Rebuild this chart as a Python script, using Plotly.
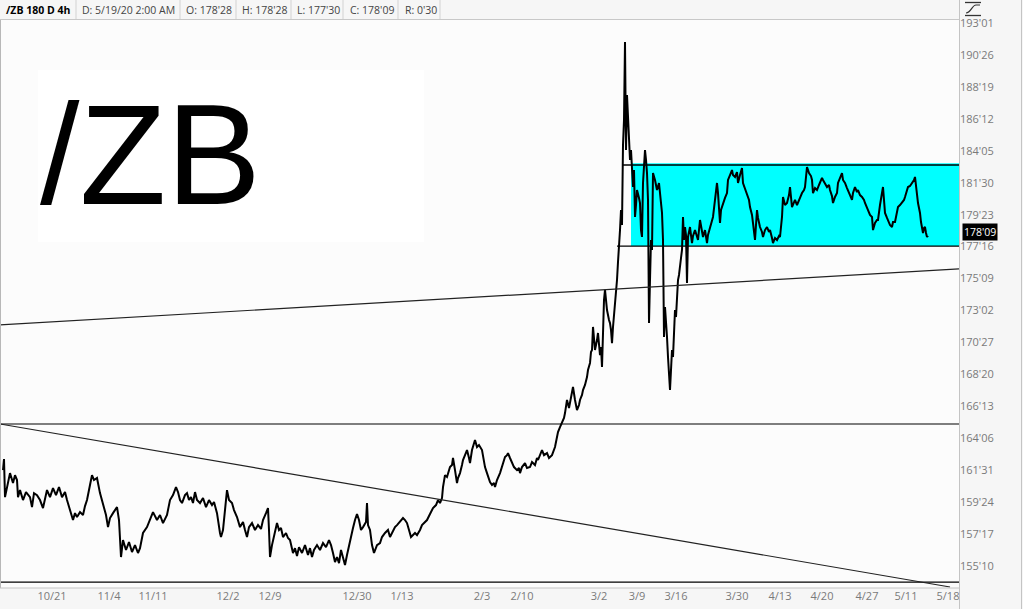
import plotly.graph_objects as go

# ---------------- data ----------------
# bar position on the chart's trading-time axis, and price (points, decimal)
bar_pos = [3,4,5,7,10,13,15,17,18,20,23,26,30,32,34,37,40,43,45,47,50,53,56,59,62,65,67,70,73,75,77,80,83,85,87,90,92,94,97,100,
           103,106,108,110,113,117,119,120,121,123,126,129,132,135,138,140,143,147,150,153,157,160,163,167,170,173,176,178,180,182,185,187,189,191,193,195,197,200,203,206,209,212,214,217,220,221,223,226,227,229,232,234,237,240,243,245,247,249,252,255,258,261,263,266,268,269,270,272,274,277,279,281,283,286,288,290,293,295,297,299,302,305,308,310,312,314,317,320,323,326,329,331,333,335,337,339,341,343,345,347,350,353,355,357,359,361,363,366,367,368,370,372,374,377,380,382,385,388,390,393,395,397,400,403,405,407,409,411,413,415,417,420,422,425,427,430,433,436,438,440,442,443,445,447,450,452,453,455,457,458,460,462,463,465,467,469,470,472,474,475,477,479,482,484,485,487,488,490,492,494,495,497,500,502,505,507,508,510,512,514,517,519,520,522,525,527,530,532,535,537,538,540,542,544,547,549,552,555,557,558,560,562,564,565,566,567,569,570,572,573,575,577,579,580,582,583,585,587,588,590,591,592,593,594,595,597,598,600,601,602,603,604,605,606,607,609,610,611,612,613,615,616,617,618,619,620,621,622,623,624,625,626,627,628,629,630,631,632,633,634,635,636,637,639,640,641,642,643,644,645,646,647,648,649,650,651,652,653,655,657,659,661,662,663,664,665,666,667,668,669,670,671,672,673,674,675,676,677,678,679,680,681,682,683,684,685,686,687,688,689,690,692,693,695,697,698,700,702,703,705,707,708,710,712,713,715,716,717,718,720,721,723,725,727,728,730,732,733,735,737,738,740,742,743,745,747,749,750,752,753,755,756,757,758,760,762,763,765,767,769,770,772,773,775,777,779,780,782,783,785,787,789,790,792,794,795,797,798,800,802,804,805,807,809,811,812,813,815,817,819,820,822,823,825,827,829,830,832,833,835,837,838,840,842,843,845,847,848,850,852,853,855,857,858,860,862,864,865,867,868,870,872,873,874,875,877,878,880,882,883,884,885,887,888,890,892,893,895,897,898,900,902,904,905,907,908,910,912,914,915,916,917,918,919,920,921,922,923,924,925,926,927,928]
price = [161.98,162.75,160.10,160.80,161.77,161.08,161.63,161.29,160.10,160.59,159.90,160.45,160.10,159.41,160.38,160.24,159.90,159.34,159.90,160.59,160.10,160.73,160.24,160.80,160.10,160.45,159.90,159.20,158.51,158.99,158.72,159.06,158.86,159.48,159.90,160.94,161.63,161.29,161.43,160.38,
         159.69,158.86,158.02,158.65,158.99,159.41,158.51,156.77,155.94,157.12,156.43,156.98,156.29,156.77,156.22,156.56,157.61,158.02,158.51,159.06,158.51,158.86,158.30,158.86,159.90,160.24,160.80,160.45,159.90,159.69,160.24,160.38,159.90,160.10,159.69,160.45,159.90,159.69,160.04,159.41,159.90,159.55,159.76,158.99,157.61,157.33,157.82,160.24,160.59,159.90,159.69,159.20,158.72,158.02,158.37,157.82,157.33,158.02,158.30,157.82,158.16,157.89,158.51,158.99,159.34,157.82,155.94,156.77,157.47,158.30,157.82,157.96,157.33,157.61,157.26,157.12,156.22,156.56,156.01,156.63,156.22,156.77,156.08,156.56,155.94,156.43,156.77,156.43,156.91,156.63,157.12,156.77,156.22,155.59,155.94,155.52,156.43,155.87,155.39,156.08,157.12,157.96,158.51,158.93,158.51,157.82,158.02,158.37,159.69,158.16,157.82,156.77,156.22,156.77,156.91,157.33,157.61,157.82,157.33,157.82,158.02,158.16,158.37,158.65,158.51,158.30,157.82,157.33,157.47,157.61,157.47,157.82,158.16,158.37,158.51,158.93,159.34,159.55,159.90,159.69,160.04,160.80,161.63,161.50,162.19,162.33,162.82,161.98,161.08,161.43,161.77,162.33,162.68,163.02,163.37,162.82,162.47,163.37,163.86,164.07,163.58,163.72,163.37,162.68,162.19,161.77,161.50,161.15,160.94,161.08,160.80,161.29,161.77,162.26,162.89,163.02,163.16,162.82,162.47,162.19,161.98,162.12,161.77,162.19,162.47,162.12,162.19,162.54,162.33,162.82,162.68,163.02,163.37,163.02,163.16,162.82,163.02,163.58,164.21,164.62,164.97,165.25,165.60,165.94,166.50,166.85,166.29,166.64,167.20,167.75,166.85,166.15,166.50,166.85,167.20,167.54,167.89,168.44,168.93,169.42,170.18,170.32,171.92,171.01,170.32,171.01,171.50,169.97,170.53,169.14,172.61,173.79,174.49,173.45,173.10,172.40,172.19,171.71,170.80,171.92,173.45,174.49,175.18,176.43,177.27,178.65,180.04,179.00,184.56,186.30,191.71,184.21,188.03,186.50,184.91,183.52,184.21,182.61,181.64,182.82,179.56,180.39,181.43,180.88,180.53,178.65,178.17,181.92,183.17,184.21,183.52,182.61,180.74,172.19,175.18,177.96,177.27,182.61,182.13,181.43,181.92,180.74,179.84,177.96,171.22,173.31,172.40,171.22,169.83,168.03,167.54,168.93,170.32,169.83,171.92,173.10,172.61,174.00,175.18,175.53,176.36,176.71,177.27,179.56,177.96,178.86,178.31,174.97,178.17,178.52,178.86,177.75,178.24,178.65,178.10,177.96,179.35,178.52,178.17,178.65,177.75,178.31,178.86,179.21,179.56,180.74,181.43,181.92,181.22,179.14,180.04,180.53,180.88,181.22,182.13,182.47,182.82,182.47,182.34,182.68,181.92,182.47,182.96,181.92,181.57,181.22,180.74,180.25,179.70,179.14,177.96,179.00,180.04,179.49,178.86,178.52,178.17,178.65,178.86,178.52,178.65,178.10,177.75,178.10,177.96,178.24,178.17,179.56,180.95,180.39,180.53,181.08,181.64,180.25,180.60,180.74,180.39,180.53,180.88,181.22,181.43,181.64,183.03,182.61,182.40,182.13,181.22,181.57,181.43,181.78,181.92,182.27,182.13,181.85,181.64,181.78,181.43,181.01,180.53,180.95,181.22,181.92,182.27,182.61,182.13,181.92,181.57,181.43,181.08,180.74,181.22,181.64,181.29,181.43,181.08,180.95,180.74,180.53,180.25,180.04,179.70,179.56,178.65,179.00,179.14,179.35,179.35,180.39,181.22,181.64,180.74,179.84,179.49,179.35,179.00,178.86,179.21,179.21,179.91,180.25,180.39,180.53,180.74,180.95,181.43,181.64,181.71,181.92,182.13,182.34,181.57,180.95,180.53,180.18,179.84,179.21,178.86,178.45,178.79,178.86,178.45,178.17,178.28]

# x-axis date labels and their bar positions
date_ticks = [52,109,153,228,270,357,402,482,522,599,637,676,737,780,822,867,906,948]
date_labels = ["10/21","11/4","11/11","12/2","12/9","12/30","1/13","2/3","2/10",
               "3/2","3/9","3/16","3/30","4/13","4/20","4/27","5/11","5/18"]

# price scale labels (32nds) and values
price_labels = ["155'10","157'17","159'24","161'31","164'06","166'13","168'20","170'27","173'02",
                "175'09","177'16","179'23","181'30","184'05","186'12","188'19","190'26","193'01"]
price_ticks = [155.3125,157.53125,159.75,161.96875,164.1875,166.40625,168.625,170.84375,173.0625,
               175.28125,177.5,179.71875,181.9375,184.15625,186.375,188.59375,190.8125,193.03125]

# drawings: consolidation box, horizontal levels, trendlines (bar_pos, price)
box_start = [631, 623, 617]          # fill start, top-line start, bottom-line start
box_prices = [177.54, 183.17]
horizontal_levels = [165.18, 154.20]
trend_up = [(0, 172.06), (959, 175.95)]
trend_down = [(0, 165.18), (950, 153.86)]
last_close = 178.28
last_close_label = "178'09"

header_cells = [("/ZB 180 D 4h", True), ("D: 5/19/20 2:00 AM", False), ("O: 178'28", False),
                ("H: 178'28", False), ("L: 177'30", False), ("C: 178'09", False), ("R: 0'30", False)]
header_text_x = [4, 80, 184, 240, 295, 348, 403]
header_sep_x = [76, 180, 236, 291, 343, 398, 440]

# ---------------- figure ----------------
W, H = 1023, 609
ML, MR, MT, MB = 0, 64, 20, 21
PW, PH = W - ML - MR, H - MT - MB
XR = [0, 959]
YR = [153.79, 193.24]


def px(x):
    return (x - ML) / PW


def py(y):
    return (H - MB - y) / PH


FONT = "Open Sans"
fig = go.Figure()

fig.add_trace(go.Scatter(x=bar_pos, y=price, mode="lines",
                         line=dict(color="#000000", width=2.0), hoverinfo="skip",
                         showlegend=False))

shapes = []
# consolidation box
shapes.append(dict(type="rect", xref="x", yref="y", x0=box_start[0], x1=XR[1],
                   y0=box_prices[0], y1=box_prices[1] + 0.12, fillcolor="#00ffff",
                   line=dict(width=0), layer="below"))
shapes.append(dict(type="line", xref="x", yref="y", x0=box_start[1], x1=XR[1],
                   y0=box_prices[1], y1=box_prices[1], line=dict(color="#000", width=1.3)))
shapes.append(dict(type="line", xref="x", yref="y", x0=box_start[2], x1=XR[1],
                   y0=box_prices[0], y1=box_prices[0], line=dict(color="#000", width=1.3)))
for lv in horizontal_levels:
    shapes.append(dict(type="line", xref="x", yref="y", x0=XR[0], x1=XR[1], y0=lv, y1=lv,
                       line=dict(color="#000", width=1.2)))
for tl in (trend_up, trend_down):
    shapes.append(dict(type="line", xref="x", yref="y", x0=tl[0][0], y0=tl[0][1],
                       x1=tl[1][0], y1=tl[1][1], line=dict(color="#222", width=1.2)))

# white label box behind the big symbol
shapes.append(dict(type="rect", xref="paper", yref="paper", x0=px(38), x1=px(424),
                   y0=py(242), y1=py(70), fillcolor="#ffffff", line=dict(width=0), layer="below"))

# frame lines
shapes.append(dict(type="line", xref="paper", yref="paper", x0=px(0.5), x1=px(0.5), y0=0, y1=1,
                   line=dict(color="#b8b8b8", width=1)))
shapes.append(dict(type="line", xref="paper", yref="paper", x0=px(959.5), x1=px(959.5), y0=py(609), y1=py(0),
                   line=dict(color="#c4c4c4", width=1)))
shapes.append(dict(type="line", xref="paper", yref="paper", x0=0, x1=px(959.5), y0=py(588), y1=py(588),
                   line=dict(color="#c4c4c4", width=1)))
shapes.append(dict(type="line", xref="paper", yref="paper", x0=0, x1=px(959.5), y0=py(19.5), y1=py(19.5),
                   line=dict(color="#c8c8c8", width=1)))
shapes.append(dict(type="line", xref="paper", yref="paper", x0=px(1021.5), x1=px(1021.5), y0=py(609), y1=py(0),
                   line=dict(color="#c4c4c4", width=1)))
for sx in header_sep_x:
    shapes.append(dict(type="line", xref="paper", yref="paper", x0=px(sx), x1=px(sx),
                       y0=py(19), y1=py(0), line=dict(color="#d2d2d2", width=1)))

# small scale icon at top of price axis
shapes.append(dict(type="line", xref="paper", yref="paper", x0=px(965), x1=px(981), y0=py(2.5), y1=py(2.5),
                   line=dict(color="#333", width=1.3)))
shapes.append(dict(type="line", xref="paper", yref="paper", x0=px(965), x1=px(981), y0=py(15.5), y1=py(15.5),
                   line=dict(color="#333", width=1.3)))
shapes.append(dict(type="path", xref="paper", yref="paper",
                   path=f"M {px(966)},{py(13)} C {px(971)},{py(13)} {px(972)},{py(5)} {px(976)},{py(5)} "
                        f"L {px(980)},{py(5)}",
                   line=dict(color="#333", width=1.2)))

annotations = []
for (txt, bold), hx in zip(header_cells, header_text_x):
    annotations.append(dict(xref="paper", yref="paper", x=px(hx), y=py(10), xanchor="left", yanchor="middle",
                            text=f"<b>{txt}</b>" if bold else txt, showarrow=False,
                            font=dict(family=FONT, size=10.5, color="#000" if bold else "#444")))

annotations.append(dict(xref="paper", yref="paper", x=px(38), y=py(154), xanchor="left", yanchor="middle",
                        text="/ZB", showarrow=False,
                        font=dict(family="Liberation Sans", size=142, color="#000")))

annotations.append(dict(xref="paper", yref="y", x=px(962), y=last_close, xanchor="left", yanchor="middle",
                        yshift=3, text=last_close_label, showarrow=False, bgcolor="#000000", borderpad=1,
                        font=dict(family=FONT, size=10.5, color="#ffffff")))

fig.update_layout(
    width=W, height=H, margin=dict(l=ML, r=MR, t=MT, b=MB),
    paper_bgcolor="#f6f6f6", plot_bgcolor="#fcfcfc",
    shapes=shapes, annotations=annotations, showlegend=False,
    xaxis=dict(range=XR, showgrid=False, zeroline=False, showline=False, ticks="",
               tickvals=date_ticks, ticktext=date_labels, fixedrange=True,
               tickfont=dict(family=FONT, size=11, color="#7a7a7a")),
    yaxis=dict(range=YR, side="right", showgrid=False, zeroline=False, showline=False, ticks="",
               tickvals=price_ticks, ticktext=price_labels, fixedrange=True,
               tickfont=dict(family=FONT, size=11, color="#7a7a7a")),
)

fig.write_html("out.html", config={"displayModeBar": False},
               post_script="document.body.style.margin='0px';document.body.style.padding='0px';")
